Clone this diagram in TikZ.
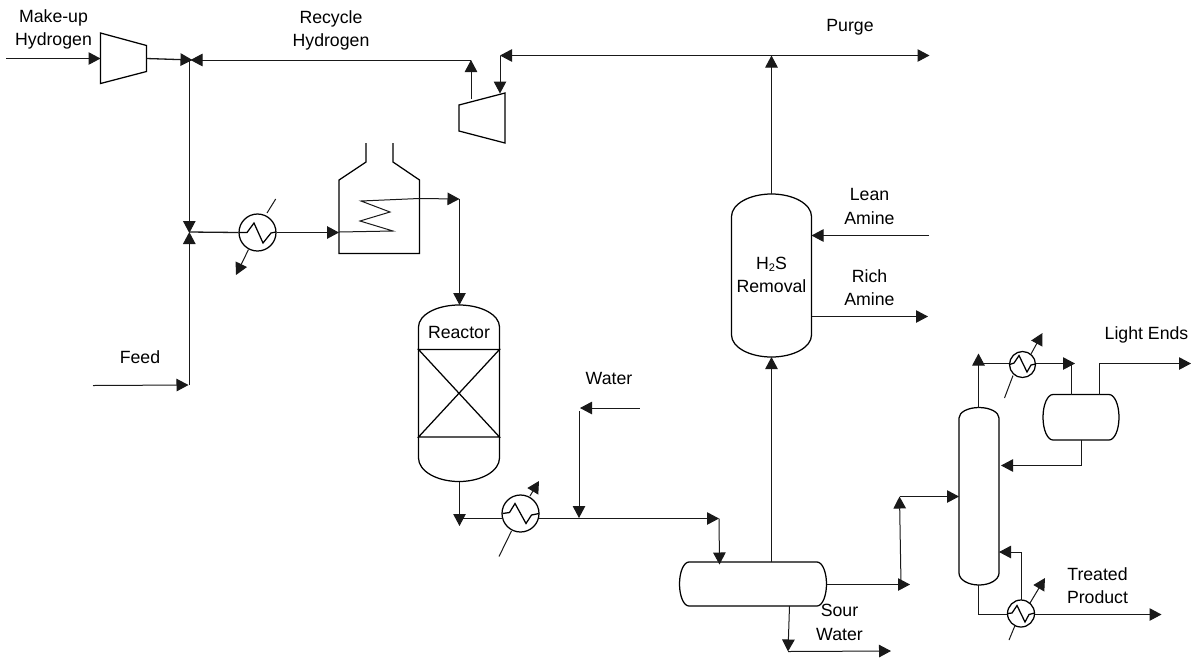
\documentclass[tikz,border=0pt]{standalone}
\usepackage{fontspec}
\setmainfont{Liberation Sans}
\usetikzlibrary{arrows.meta,calc}
\tikzset{
  x=1pt,y=-1pt,
  pipe/.style={line width=1pt,draw=black!90},
  flow/.style={pipe,-{Triangle[length=12pt,width=12.5pt]}},
  equip/.style={line width=1.25pt,draw=black,line join=miter},
  hxc/.style={circle,draw=black,line width=1.25pt,fill=none,inner sep=0pt,minimum size=#1},
  ghost/.style={inner sep=0pt,outer sep=0pt},
  lbl/.style={inner sep=0pt,align=center,font=\fontsize{17.7}{23.5}\selectfont,text=black}
}
\newcommand{\vves}[7]{% name cx top sh1 sh2 bot halfw
  \pgfmathsetmacro{\capa}{#4-#3}\pgfmathsetmacro{\capb}{#6-#5}
  \pgfmathsetmacro{\ml}{#2-#7}\pgfmathsetmacro{\mr}{#2+#7}
  \pgfmathsetmacro{\mm}{(#3+#6)/2}\pgfmathsetmacro{\mh}{#6-#3}\pgfmathsetmacro{\mw}{2*#7}
  \node[ghost,minimum width=\mw pt,minimum height=\mh pt] (#1) at (#2,\mm) {};
  \draw[equip] (\ml,#4) arc[start angle=180,end angle=0,x radius=#7pt,y radius=\capa pt]
    -- (\mr,#5) arc[start angle=0,end angle=-180,x radius=#7pt,y radius=\capb pt] -- cycle;
}
\newcommand{\hves}[6]{% name left right top bot capw
  \pgfmathsetmacro{\mh}{(#5-#4)/2}\pgfmathsetmacro{\mm}{(#4+#5)/2}
  \pgfmathsetmacro{\mc}{(#2+#3)/2}\pgfmathsetmacro{\mw}{#3-#2}\pgfmathsetmacro{\mhh}{#5-#4}
  \pgfmathsetmacro{\ml}{#2+#6}\pgfmathsetmacro{\mr}{#3-#6}
  \node[ghost,minimum width=\mw pt,minimum height=\mhh pt] (#1) at (\mc,\mm) {};
  \draw[equip] (\ml,#4) arc[start angle=90,end angle=270,x radius=#6pt,y radius=\mh pt]
    -- (\mr,#5) arc[start angle=-90,end angle=90,x radius=#6pt,y radius=\mh pt] -- cycle;
}
\begin{document}
\begin{tikzpicture}
\useasboundingbox (0,0) rectangle (1191,657);
\fill[white] (0,0) rectangle (1191,657);

% compressors
\draw[equip] (100.5,33) -- (146.5,45.5) -- (146.5,71.5) -- (100.5,83.5) -- cycle;
\draw[equip] (459,105) -- (505,93) -- (505,143) -- (459,131) -- cycle;
% furnace
\draw[equip] (366,143) -- (366,162) -- (339,180) -- (339,253.5) -- (419.5,253.5) -- (419.5,180) -- (393,162) -- (393,143);
\node[ghost,minimum width=80pt,minimum height=73pt] (furnace) at (379,217) {};

% vessels
\vves{h2s}{771.5}{194}{216.5}{335}{357}{40}
\vves{reactor}{459}{305}{327}{458}{481.5}{40.5}
\draw[equip] (418.5,349.5) -- (499.5,349.5) -- (418.5,437) -- (499.5,437) -- cycle;
\draw[equip] (418.5,349.5) -- (418.5,437) (499.5,349.5) -- (499.5,437);
\vves{column}{979}{407.5}{418}{573}{585}{20}
\hves{sep}{679.5}{826.5}{562}{606}{9.5}
\hves{acc}{1043}{1119}{394.5}{440}{10}

% exchangers
\node[hxc=37pt] (hxa) at (257.5,232.5) {};
\node[hxc=37pt] (hxb) at (520.5,513.5) {};
\node[hxc=26pt] (hxc1) at (1022.5,364.5) {};
\node[hxc=27pt] (hxd) at (1021,613.5) {};
\draw[equip] (239,232.5) -- (247,232.5) -- (254,223) -- (263,243) -- (271,233) -- (276,232);
\draw[equip] (502.5,513.5) -- (509.5,512.5) -- (515,503.5) -- (526,523.5) -- (531.5,515) -- (539,513.5);
\draw[equip] (1009.5,364.5) -- (1014,363) -- (1019,355.5) -- (1027,372) -- (1031,365) -- (1035.5,364);
\draw[equip] (1007.5,613.5) -- (1012,613) -- (1017,605.5) -- (1025,622) -- (1029,614.5) -- (1034.5,613);

% named points
\coordinate (a1) at (6,58.5);
\coordinate (c1in) at (100.5,58.5);
\coordinate (c1out) at (146.5,58.5);
\coordinate (j1) at (192.5,60);
\coordinate (j1r) at (190.5,60);
\coordinate (j1v) at (189.3,60);
\coordinate (j2) at (189.3,233);
\coordinate (feedend) at (188.5,385);
\coordinate (feedin) at (93,385.5);
\coordinate (j3) at (189.3,232);
\coordinate (c2a) at (471,99);
\coordinate (c2b) at (471,60);
\coordinate (c2c) at (500,56);
\coordinate (c2d) at (500,93.5);
\coordinate (topl) at (500,55.5);
\coordinate (topr) at (929.5,55.5);
\coordinate (topm) at (771.5,55.5);
\coordinate (lean) at (929,235.5);
\coordinate (leanin) at (811.5,235.5);
\coordinate (rich) at (811.5,316.5);
\coordinate (richout) at (928,316.5);
\coordinate (sepup) at (771.5,562);
\coordinate (coilout) at (459.5,199);
\coordinate (rxin) at (459.5,305);
\coordinate (rxout) at (459.5,481.5);
\coordinate (rxb) at (459.5,526);
\coordinate (rxh) at (459.5,518.5);
\coordinate (wa) at (639.5,408);
\coordinate (wb) at (580,408);
\coordinate (wc) at (579,411);
\coordinate (wd) at (579,518);
\coordinate (hxbout) at (539,518.5);
\coordinate (hxbend) at (719,518.5);
\coordinate (sepin) at (719.5,564.5);
\coordinate (swa) at (789.5,606);
\coordinate (swb) at (788,651.5);
\coordinate (swc) at (891,651);
\coordinate (sout) at (826.5,584.5);
\coordinate (sout2) at (910,584.5);
\coordinate (ua) at (901,584);
\coordinate (ub) at (899.5,496.5);
\coordinate (colin) at (959,496.5);
\coordinate (ctop) at (978.5,407.5);
\coordinate (ctop2) at (978.5,353.5);
\coordinate (oh) at (978.5,363.5);
\coordinate (ohend) at (1075,363.5);
\coordinate (acca) at (1071.5,364);
\coordinate (accb) at (1071.5,394.5);
\coordinate (lea) at (1099,394.5);
\coordinate (leb) at (1099,363.5);
\coordinate (lec) at (1191,363.5);
\coordinate (refa) at (1081,440);
\coordinate (refb) at (1081,465.5);
\coordinate (refc) at (1001,465.5);
\coordinate (cbot) at (978.5,585);
\coordinate (cbot2) at (978.5,614.5);
\coordinate (prod) at (1034.5,614.5);
\coordinate (prodend) at (1161.5,614.5);
\coordinate (boila) at (1021.5,600);
\coordinate (boilb) at (1021.5,552);
\coordinate (boilc) at (999,552);

% connectors
\draw[flow] (a1) -- (c1in);
\draw[flow,line width=1.3pt] (c1out) -- (j1);
\draw[flow] (c2b) -- (j1r);
\draw[flow] (c2a) -- (c2b);
\draw[flow] (c2c) -- (c2d);
\draw[flow] (topm) -- (topl);
\draw[flow] (topm) -- (topr);
\draw[flow] (h2s.north) -- (topm);
\draw[flow] (lean) -- (leanin);
\draw[flow] (rich) -- (richout);
\draw[flow] (sepup) -- (h2s.south);
\draw[flow] (j1v) -- (j2);
\draw[flow] (feedin) -- (feedend);
\draw[flow] (189.3,385) -- (j3);
\draw[pipe,line width=1.3pt] (j3) -- (hxa.west);
\draw[flow,line width=1.3pt] (hxa.east) -- (339,232.5);
\draw[pipe] (339,232) -- (393,231) -- (360,221) -- (390,212) -- (361,201) -- (419,198.5);
\draw[flow] (419,198.5) -- (coilout);
\draw[flow] (coilout) -- (rxin);
\draw[pipe] (267,213) -- (275.7,199);
\draw[flow] (248.5,249.5) -- (236,275);
\draw[flow] (rxout) -- (rxb);
\draw[pipe] (rxh) -- (502.5,518.5);
\draw[flow] (hxbout) -- (hxbend);
\draw[flow] (hxbend) -- (sepin);
\draw[flow] (wa) -- (wb);
\draw[flow] (wc) -- (wd);
\draw[pipe] (511.5,531) -- (499,556.5);
\draw[flow] (530,496) -- (539,481);
\draw[flow] (swa) -- (swb);
\draw[flow] (swb) -- (swc);
\draw[flow] (sout) -- (sout2);
\draw[flow] (ua) -- (ub);
\draw[flow] (ub) -- (colin);
\draw[flow] (ctop) -- (ctop2);
\draw[pipe] (oh) -- (hxc1.west |- oh);
\draw[flow] (hxc1.east |- oh) -- (ohend);
\draw[pipe] (acca) -- (accb);
\draw[flow] (lea) -- (leb) -- (lec);
\draw[flow] (refa) -- (refb) -- (refc);
\draw[pipe] (cbot) -- (cbot2) -- (hxd.west |- cbot2);
\draw[flow] (prod) -- (prodend);
\draw[flow] (boila) -- (boilb) -- (boilc);
\draw[pipe] (1013,375.5) -- (1004.5,398);
\draw[flow] (1031,354) -- (1042.5,333);
\draw[flow] (1030,603) -- (1045,578);
\draw[pipe] (1015,625.5) -- (1009,640);

% labels
\node[lbl] (tmakeup) at (53.5,29.5) {Make-up\\Hydrogen};
\node[lbl] (trecycle) at (331,30.5) {Recycle\\Hydrogen};
\node[lbl] (tpurge) at (850,27) {Purge};
\node[lbl] (tlean) at (869.5,206.5) {Lean\\Amine};
\node[lbl] (trich) at (869.5,287.5) {Rich\\Amine};
\node[lbl] (th2s) at (771.5,275) {H{\fontsize{11}{11}\selectfont\raisebox{-2.5pt}{2}}S\\Removal};
\node[lbl] (treactor) at (459,332.5) {Reactor};
\node[lbl] (twater) at (609,378.5) {Water};
\node[lbl] (tsour) at (839.5,622.5) {Sour\\Water};
\node[lbl] (tlight) at (1146.5,335) {Light Ends};
\node[lbl] (ttreated) at (1097.5,585.5) {Treated\\Product};
\node[lbl] (tfeed) at (140,357) {Feed};
\end{tikzpicture}
\end{document}
